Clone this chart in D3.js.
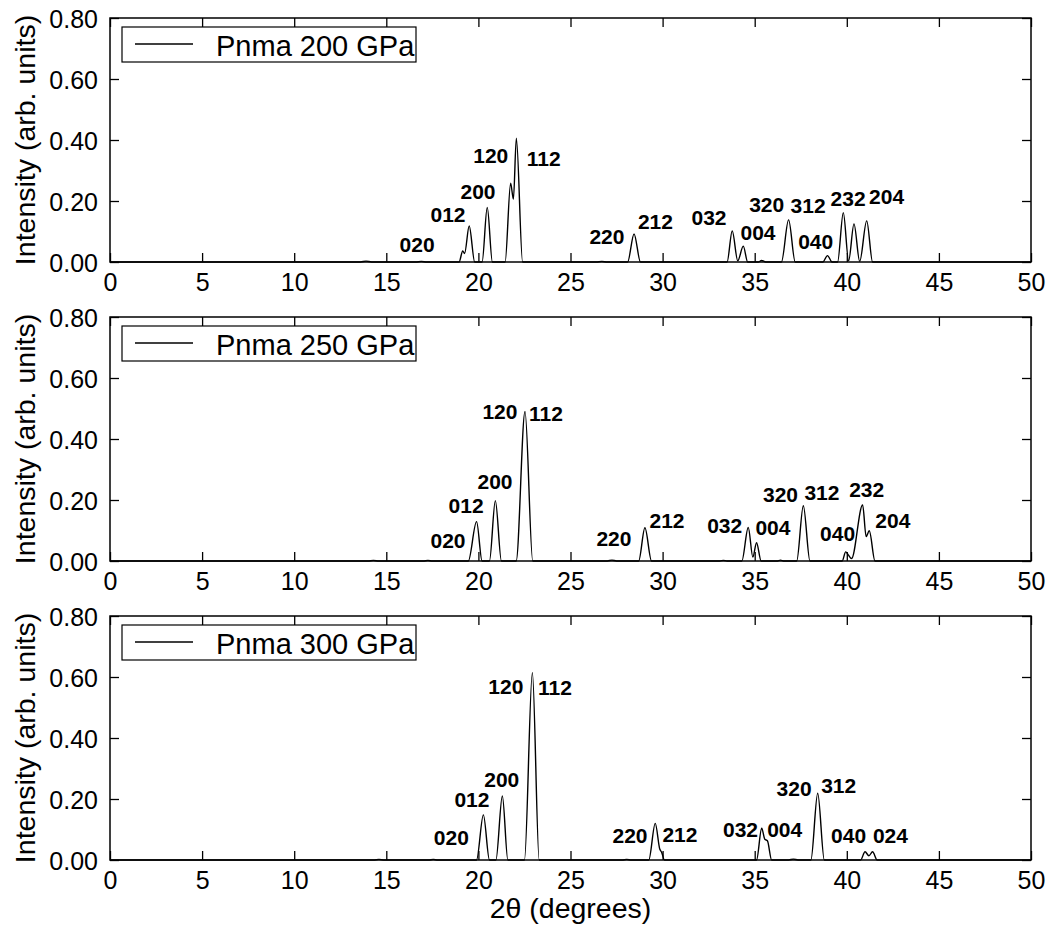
<!DOCTYPE html>
<html>
<head>
<meta charset="utf-8">
<script src="https://cdn.jsdelivr.net/npm/d3@7/dist/d3.min.js"></script>
<style>
  body { margin: 0; background: #fff; }
  svg { display: block; font-family: "Liberation Sans", Arial, sans-serif; }
</style>
</head>
<body>
<div id="chart"></div>
<script>
// legend names of the three panels
const panelNames = ["Pnma 200 GPa", "Pnma 250 GPa", "Pnma 300 GPa"];
const xTicks = [0, 5, 10, 15, 20, 25, 30, 35, 40, 45, 50];
const yTicks = [0, 0.2, 0.4, 0.6, 0.8];

// [2theta, intensity] vertices
const pattern200 = [
  [0, 0], [13.6, 0], [13.9, 0.003], [14.2, 0], [16.6, 0], [16.9, 0.002], [17.2, 0],
  [18.95, 0], [19.15, 0.036], [19.25, 0.028], [19.5, 0.118], [19.8, 0],
  [20.2, 0], [20.48, 0.179], [20.76, 0],
  [21.45, 0], [21.75, 0.258], [21.9, 0.206], [22.06, 0.406], [22.4, 0],
  [26.4, 0], [26.7, 0.002], [27.0, 0],
  [28.1, 0], [28.45, 0.092], [28.8, 0],
  [33.5, 0], [33.78, 0.102], [34.08, 0.004], [34.38, 0.052], [34.62, 0],
  [35.2, 0], [35.37, 0.005], [35.6, 0],
  [36.45, 0], [36.84, 0.138], [37.2, 0],
  [38.7, 0], [38.95, 0.021], [39.2, 0],
  [39.5, 0], [39.81, 0.162], [40.1, 0.004], [40.39, 0.125], [40.7, 0.002], [41.08, 0.135], [41.4, 0],
  [50, 0]
];
const pattern250 = [
  [0, 0], [14.0, 0], [14.3, 0.002], [14.6, 0], [17.0, 0], [17.26, 0.002], [17.5, 0],
  [19.45, 0], [19.9, 0.129], [20.2, 0],
  [20.6, 0], [20.92, 0.198], [21.25, 0],
  [22.05, 0], [22.53, 0.49], [22.95, 0],
  [27.0, 0], [27.25, 0.003], [27.5, 0],
  [28.7, 0], [29.04, 0.109], [29.4, 0],
  [33.1, 0], [33.3, 0.002], [33.5, 0],
  [34.3, 0], [34.65, 0.11], [34.9, 0.013], [35.1, 0.06], [35.35, 0],
  [36.2, 0], [36.4, 0.003], [36.6, 0],
  [37.28, 0], [37.64, 0.181], [38.0, 0],
  [39.75, 0], [39.94, 0.03], [40.08, 0.02], [40.26, 0.008],
  [40.86, 0.184], [41.05, 0.08], [41.22, 0.099], [41.53, 0],
  [50, 0]
];
const pattern300 = [
  [0, 0], [14.3, 0], [14.6, 0.002], [14.9, 0], [17.3, 0], [17.55, 0.002], [17.8, 0],
  [19.9, 0], [20.27, 0.148], [20.6, 0],
  [20.95, 0], [21.3, 0.21], [21.6, 0],
  [22.5, 0], [22.93, 0.614], [23.3, 0],
  [27.8, 0], [28.05, 0.002], [28.3, 0],
  [29.25, 0], [29.6, 0.12], [29.85, 0.035], [29.95, 0.025], [30.1, 0],
  [35.1, 0], [35.38, 0.104], [35.55, 0.068], [35.69, 0.063], [35.92, 0],
  [36.85, 0], [37.1, 0.003], [37.35, 0],
  [38.05, 0], [38.42, 0.219], [38.78, 0],
  [40.75, 0], [40.99, 0.027], [41.2, 0.014], [41.4, 0.027], [41.65, 0],
  [50, 0]
];

// [hkl, 2theta, intensity] where each reflection label sits
const labels200 = [
  ["020", 16.67, 0.033], ["012", 18.35, 0.132], ["200", 19.98, 0.206],
  ["120", 20.67, 0.326], ["112", 23.55, 0.316], ["220", 26.98, 0.059],
  ["212", 29.61, 0.107], ["032", 32.52, 0.121], ["004", 35.18, 0.072],
  ["320", 35.65, 0.165], ["312", 37.9, 0.162], ["040", 38.31, 0.042],
  ["232", 40.07, 0.184], ["204", 42.16, 0.19]
];
const labels250 = [
  ["020", 18.35, 0.042], ["012", 19.33, 0.158], ["200", 20.9, 0.235],
  ["120", 21.17, 0.465], ["112", 23.67, 0.46], ["220", 27.36, 0.05],
  ["212", 30.24, 0.108], ["032", 33.37, 0.093], ["004", 35.99, 0.085],
  ["320", 36.4, 0.194], ["312", 38.65, 0.2], ["040", 39.5, 0.067],
  ["232", 41.08, 0.211], ["204", 42.5, 0.107]
];
const labels300 = [
  ["020", 18.53, 0.049], ["012", 19.65, 0.175], ["200", 21.27, 0.238],
  ["120", 21.49, 0.544], ["112", 24.16, 0.541], ["220", 28.23, 0.057],
  ["212", 30.94, 0.06], ["032", 34.23, 0.074], ["004", 36.63, 0.076],
  ["320", 37.14, 0.21], ["312", 39.56, 0.219], ["040", 40.1, 0.055],
  ["024", 42.37, 0.055]
];

const patterns = [pattern200, pattern250, pattern300];
const peakLabels = [labels200, labels250, labels300];

const W = 1052, H = 927;
const left = 110, right = 1031;
const panelTop = [18, 317, 616];
const panelH = 244;

const svg = d3.select("#chart").append("svg")
  .attr("width", W)
  .attr("height", H);

const x = d3.scaleLinear().domain([0, 50]).range([left, right]);

panelNames.forEach((name, i) => {
  const top = panelTop[i];
  const y = d3.scaleLinear().domain([0, 0.8]).range([top + panelH, top]);
  const g = svg.append("g");

  // ticks inside the frame on all four sides
  const bottom = g.append("g")
    .attr("transform", `translate(0,${top + panelH})`)
    .call(d3.axisBottom(x).tickValues(xTicks).tickSize(-9).tickPadding(11));
  g.append("g")
    .attr("transform", `translate(0,${top})`)
    .call(d3.axisTop(x).tickValues(xTicks).tickSize(-9).tickFormat(""));
  const leftAx = g.append("g")
    .attr("transform", `translate(${left},0)`)
    .call(d3.axisLeft(y).tickValues(yTicks).tickSize(-9).tickPadding(12).tickFormat(d3.format(".2f")));
  g.append("g")
    .attr("transform", `translate(${right},0)`)
    .call(d3.axisRight(y).tickValues(yTicks).tickSize(-9).tickFormat(""));

  g.selectAll(".domain").remove();
  g.selectAll(".tick line").attr("stroke", "#000").attr("stroke-width", 1.3);
  g.selectAll(".tick text")
    .attr("fill", "#000")
    .style("font-size", "25px")
    .style("font-family", "'Liberation Sans', Arial, sans-serif");
  leftAx.selectAll(".tick text").attr("dy", "0.36em");

  // the XRD pattern
  const line = d3.line()
    .x(d => x(d[0]))
    .y(d => y(d[1]))
    .curve(d3.curveMonotoneX);

  g.append("path")
    .datum(patterns[i])
    .attr("d", line)
    .attr("fill", "none")
    .attr("stroke", "#000")
    .attr("stroke-width", 1.4);

  // frame
  g.append("rect")
    .attr("x", left).attr("y", top)
    .attr("width", right - left).attr("height", panelH)
    .attr("fill", "none")
    .attr("stroke", "#000")
    .attr("stroke-width", 1.5);

  // hkl labels
  g.selectAll(".hkl")
    .data(peakLabels[i]).enter().append("text")
    .attr("x", d => x(d[1]))
    .attr("y", d => y(d[2]))
    .attr("text-anchor", "middle")
    .style("font-size", "21px")
    .style("font-weight", "bold")
    .text(d => d[0]);

  // legend
  g.append("rect")
    .attr("x", left + 12).attr("y", top + 9)
    .attr("width", 294).attr("height", 35)
    .attr("fill", "#fff")
    .attr("stroke", "#000")
    .attr("stroke-width", 1.2);
  g.append("line")
    .attr("x1", left + 25).attr("x2", left + 83)
    .attr("y1", top + 26).attr("y2", top + 26)
    .attr("stroke", "#000")
    .attr("stroke-width", 1.3);
  g.append("text")
    .attr("x", left + 106).attr("y", top + 38)
    .style("font-size", "29px")
    .text(name);

  // y axis title
  g.append("text")
    .attr("transform", `translate(35,${top + panelH / 2}) rotate(-90)`)
    .attr("text-anchor", "middle")
    .style("font-size", "28.5px")
    .text("Intensity (arb. units)");
});

svg.append("text")
  .attr("x", (left + right) / 2)
  .attr("y", 918)
  .attr("text-anchor", "middle")
  .style("font-size", "28.5px")
  .text("2θ (degrees)");
</script>
</body>
</html>
